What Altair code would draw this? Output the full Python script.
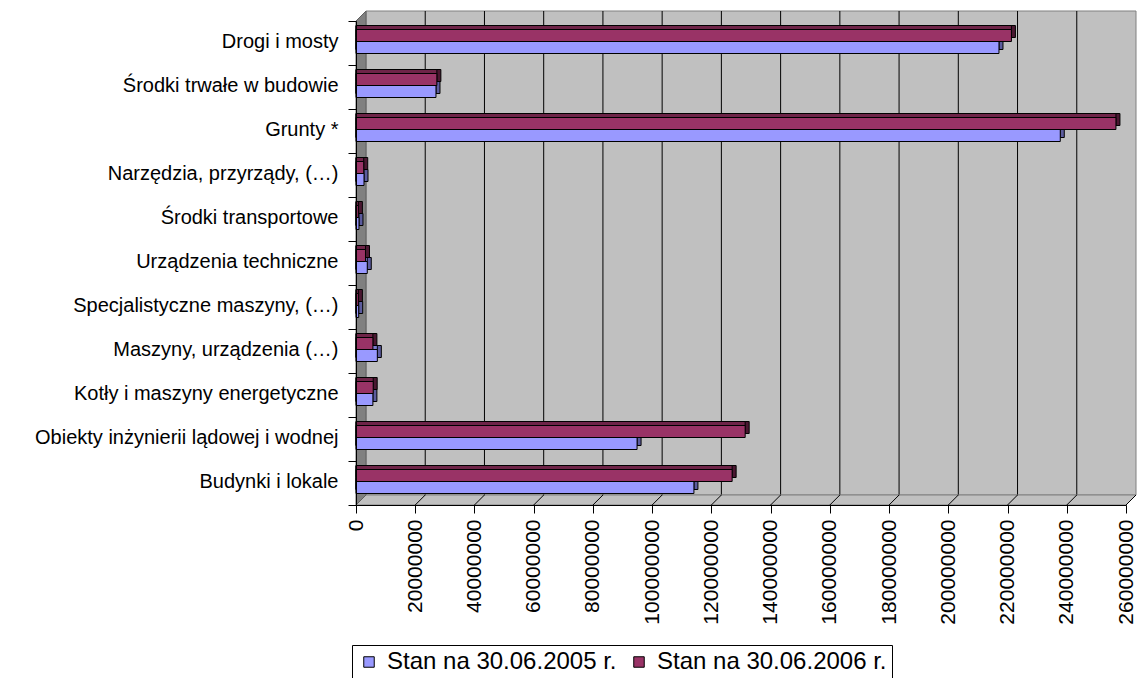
import altair as alt
import pandas as pd

categories = [
    "Drogi i mosty",
    "Środki trwałe w budowie",
    "Grunty *",
    "Narzędzia, przyrządy, (…)",
    "Środki transportowe",
    "Urządzenia techniczne",
    "Specjalistyczne maszyny, (…)",
    "Maszyny, urządzenia (…)",
    "Kotły i maszyny energetyczne",
    "Obiekty inżynierii lądowej i wodnej",
    "Budynki i lokale",
]
series = ["Stan na 30.06.2005 r.", "Stan na 30.06.2006 r."]
values_2005 = [216600000, 26500000, 237300000, 2200000, 500000, 3300000,
               400000, 6700000, 5200000, 94400000, 113600000]
values_2006 = [220800000, 26800000, 256100000, 2100000, 300000, 2700000,
               300000, 5200000, 5300000, 130900000, 126500000]
x_ticks = [0, 20000000, 40000000, 60000000, 80000000, 100000000, 120000000,
           140000000, 160000000, 180000000, 200000000, 220000000, 240000000,
           260000000]

W, H = 770, 484
DEPTH = 10
FONT = "Liberation Sans"

rows = []
for c, a, b in zip(categories, values_2005, values_2006):
    rows.append({"category": c, "series": series[0], "value": a})
    rows.append({"category": c, "series": series[1], "value": b})
df = pd.DataFrame(rows)
ticks_df = pd.DataFrame({"v": x_ticks})

xscale = alt.Scale(domain=[0, x_ticks[-1]], nice=False, zero=True)
xaxis = alt.Axis(values=x_ticks, format="d", labelAngle=-90, labelFontSize=21,
                 labelFont=FONT, labelColor="black", tickColor="black",
                 tickSize=8, domainColor="black", labelPadding=6, grid=False,
                 title=None, zindex=1, labelFlush=False, labelOverlap=False)
yscale = alt.Scale(domain=categories, paddingInner=0, paddingOuter=0)
yaxis = alt.Axis(title=None, tickBand="extent", tickSize=8, tickColor="black",
                 domainColor="black", labelFont=FONT, labelFontSize=20,
                 labelColor="black", labelLimit=600, labelPadding=10,
                 labelOffset=-2, zindex=1, grid=False)

Y = alt.Y("category:N", scale=yscale, axis=yaxis, sort=categories)
XV = alt.X("value:Q", scale=xscale, axis=xaxis, stack=None)

# back wall
wall = alt.Chart(pd.DataFrame({"a": [0]})).mark_rect(
    fill="#c0c0c0", stroke="#808080", strokeWidth=1,
    xOffset=DEPTH, x2Offset=DEPTH
).encode(
    x=alt.X(datum=0, type="quantitative", scale=xscale, axis=xaxis),
    x2=alt.X2(datum=x_ticks[-1]),
    y=alt.value(-DEPTH), y2=alt.value(H - DEPTH),
)

grid = alt.Chart(ticks_df).transform_filter(
    (alt.datum.v > 0) & (alt.datum.v < x_ticks[-1])
).mark_rule(color="black", strokeWidth=1, xOffset=DEPTH).encode(
    x=alt.X("v:Q", scale=xscale, axis=xaxis),
    y=alt.value(-DEPTH), y2=alt.value(H - DEPTH),
)

floor_df = pd.DataFrame({"px": [0, DEPTH, W, W + DEPTH],
                         "py": [H, H - DEPTH, H - DEPTH, H - DEPTH],
                         "py2": [H, H, H, H - DEPTH]})
floor = alt.Chart(floor_df).mark_area(
    fill="#c0c0c0", stroke="#808080", strokeWidth=1
).encode(
    x=alt.X("px:Q", scale=None, axis=None),
    y=alt.Y("py:Q", scale=None, axis=None),
    y2="py2:Q",
)

diag = alt.Chart(ticks_df).transform_filter(alt.datum.v > 0).mark_rule(
    color="black", strokeWidth=1, x2Offset=DEPTH
).encode(
    x=alt.X("v:Q", scale=xscale, axis=xaxis),
    x2="v:Q",
    y=alt.value(H), y2=alt.value(H - DEPTH),
)

side_df = pd.DataFrame({"px": [0, DEPTH], "py": [0, -DEPTH],
                        "py2": [H, H - DEPTH]})
side = alt.Chart(side_df).mark_area(
    fill="#808080", stroke="#606060", strokeWidth=1
).encode(
    x=alt.X("px:Q", scale=None, axis=None),
    y=alt.Y("py:Q", scale=None, axis=None),
    y2="py2:Q",
)

front_cols = ["#9999ff", "#993366"]
top_cols = ["#7b7bcf", "#6e2448"]
side_cols = ["#5c5c9e", "#4a1731"]
yoffs = [4.5, -7.5]
BX = 1.5
D = 4

def shadow(i):
    s = series[i]
    base = alt.Chart(df).transform_filter(alt.datum.series == s)
    sd = base.mark_bar(size=12, fill=side_cols[i], stroke="black", strokeWidth=1,
                       yOffset=yoffs[i] - D, xOffset=BX + D, x2Offset=BX + D
                       ).encode(y=Y, x=XV)
    tp = base.mark_bar(size=12, fill=top_cols[i], stroke="black", strokeWidth=1,
                       yOffset=yoffs[i] - D, xOffset=BX, x2Offset=BX + D
                       ).encode(y=Y, x=XV)
    return [sd, tp]

color = alt.Color(
    "series:N",
    scale=alt.Scale(domain=series, range=front_cols),
    legend=alt.Legend(title=None, orient="none", legendX=-4, legendY=624,
                      direction="horizontal", symbolType="square",
                      symbolSize=110, symbolStrokeColor="black",
                      symbolStrokeWidth=1, labelFont=FONT, labelFontSize=24,
                      labelColor="black", labelLimit=600, strokeColor="black",
                      fillColor="white", padding=5, columnPadding=10,
                      labelOffset=6),
)

def front(i):
    s = series[i]
    return alt.Chart(df).transform_filter(alt.datum.series == s).mark_bar(
        size=12, stroke="black", strokeWidth=1, opacity=1,
        yOffset=yoffs[i], xOffset=BX, x2Offset=BX
    ).encode(y=Y, x=XV, color=color)

layers = [wall, grid, floor, diag, side] + shadow(0) + shadow(1) + [front(0), front(1)]

chart = alt.layer(*layers).properties(
    width=W, height=H,
    autosize=alt.AutoSizeParams(type="none"),
    padding={"left": 348, "top": 13, "right": 12, "bottom": 173},
).configure_view(stroke=None).configure(background="white")

chart.save("out.html", embed_options={"renderer": "svg", "actions": False})
